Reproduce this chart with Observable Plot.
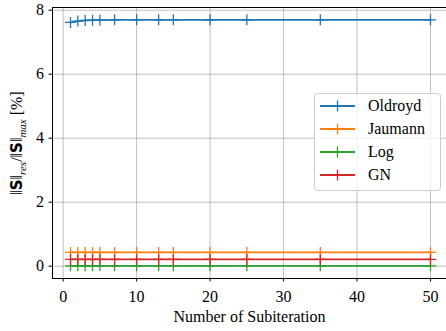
<!DOCTYPE html>
<html>
<head>
<meta charset="utf-8">
<script src="https://cdn.jsdelivr.net/npm/d3@7"></script>
<script src="https://cdn.jsdelivr.net/npm/@observablehq/plot@0.6"></script>
<style>
  html, body { margin: 0; padding: 0; background: #fff; overflow: hidden; }
  svg { display: block; }
</style>
</head>
<body>
<div id="chart"></div>
<script>
// Number of subiterations at which the residual stress was recorded
const subiterations = [1, 2, 3, 4, 5, 7, 10, 13, 15, 20, 25, 35, 50];

// Relative residual stress ||S||_res / ||S||_max in percent, per objective rate
const oldroyd = [7.62, 7.66, 7.68, 7.69, 7.69, 7.70, 7.70, 7.70, 7.70, 7.70, 7.70, 7.70, 7.70];
const jaumann = [0.43, 0.43, 0.43, 0.43, 0.43, 0.43, 0.43, 0.43, 0.43, 0.43, 0.43, 0.43, 0.43];
const logRate = [0.01, 0.01, 0.01, 0.01, 0.01, 0.01, 0.01, 0.01, 0.01, 0.01, 0.01, 0.01, 0.01];
const gn      = [0.21, 0.21, 0.21, 0.21, 0.21, 0.21, 0.21, 0.21, 0.21, 0.21, 0.21, 0.21, 0.21];

const seriesNames = ["Oldroyd", "Jaumann", "Log", "GN"];
const seriesValues = [oldroyd, jaumann, logRate, gn];
const seriesColors = ["#1f77b4", "#ff7f0e", "#2ca02c", "#d62728"];

const xTicks = [0, 10, 20, 30, 40, 50];
const yTicks = [0, 2, 4, 6, 8];
const xDomain = [-1.45, 52.45];
const yDomain = [-0.385, 8.085];
const xLabel = "Number of Subiteration";

const FONT = "'Liberation Serif', 'DejaVu Serif', serif";

// long-form table
const rows = [];
seriesNames.forEach((name, i) => {
  subiterations.forEach((n, j) => rows.push({series: name, n, value: seriesValues[i][j]}));
});

// "+" marker drawn as two strokes
const plusSymbol = {
  draw(context, size) {
    const r = Math.sqrt(size / Math.PI);
    context.moveTo(-r, 0); context.lineTo(r, 0);
    context.moveTo(0, -r); context.lineTo(0, r);
  }
};

const marks = [
  Plot.ruleX(xTicks, {stroke: "#b0b0b0", strokeWidth: 0.8}),
  Plot.ruleY(yTicks, {stroke: "#b0b0b0", strokeWidth: 0.8}),
];
seriesNames.forEach((name, i) => {
  const data = rows.filter(d => d.series === name);
  marks.push(Plot.line(data, {x: "n", y: "value", stroke: seriesColors[i], strokeWidth: 1.8}));
  marks.push(Plot.dot(data, {x: "n", y: "value", stroke: seriesColors[i], fill: "none", symbol: plusSymbol, r: 5.5, strokeWidth: 1.3}));
});
// spines: left, bottom, top
marks.push(Plot.ruleX([xDomain[0]], {stroke: "black", strokeWidth: 1}));
marks.push(Plot.ruleY([yDomain[0], yDomain[1]], {stroke: "black", strokeWidth: 1}));
marks.push(Plot.text([xLabel], {frameAnchor: "bottom", dy: 43, lineAnchor: "bottom", fontSize: 16, fill: "black"}));

const chart = Plot.plot({
  width: 446,
  height: 331,
  marginLeft: 52,
  marginRight: 0,
  marginTop: 7,
  marginBottom: 53,
  style: {fontFamily: FONT, fontSize: "16px", background: "white", color: "black", overflow: "hidden"},
  x: {domain: xDomain, range: [52, 448], ticks: xTicks, tickSize: 3.5, tickPadding: 9, label: null, tickFormat: d => String(d)},
  y: {domain: yDomain, ticks: yTicks, tickSize: 3.5, tickPadding: 5, label: null, tickFormat: d => String(d)},
  marks
});

document.getElementById("chart").appendChild(chart);

const svg = d3.select(chart);

// y-axis label with bold S and italic subscripts
const yl = svg.append("text")
  .attr("transform", "translate(22,143) rotate(-90)")
  .attr("text-anchor", "middle")
  .attr("font-family", FONT)
  .attr("font-size", 16)
  .attr("fill", "black");
yl.append("tspan").text("\u2016");
yl.append("tspan").attr("font-weight", "bold").style("font-family", "'DejaVu Sans', sans-serif").attr("font-size", 15).text("S");
yl.append("tspan").text("\u2016");
yl.append("tspan").attr("font-style", "italic").attr("font-size", 11).attr("dy", 4).text("res");
yl.append("tspan").attr("dy", -4).text("/\u2016");
yl.append("tspan").attr("font-weight", "bold").style("font-family", "'DejaVu Sans', sans-serif").attr("font-size", 15).text("S");
yl.append("tspan").text("\u2016");
yl.append("tspan").attr("font-style", "italic").attr("font-size", 11).attr("dy", 4).text("max");
yl.append("tspan").attr("dy", -4).text(" [%]");

// legend box
const lg = svg.append("g").attr("font-family", FONT).attr("font-size", 16).attr("text-anchor", "start");
lg.append("rect")
  .attr("x", 314.5).attr("y", 93.5).attr("width", 126).attr("height", 97)
  .attr("rx", 3).attr("ry", 3)
  .attr("fill", "white").attr("fill-opacity", 0.8)
  .attr("stroke", "#cccccc").attr("stroke-width", 1);
seriesNames.forEach((name, i) => {
  const y = 106 + i * 23;
  lg.append("line").attr("x1", 320).attr("x2", 355).attr("y1", y).attr("y2", y)
    .attr("stroke", seriesColors[i]).attr("stroke-width", 1.8);
  lg.append("path").attr("d", `M332,${y}h11M337.5,${y - 5.5}v11`)
    .attr("stroke", seriesColors[i]).attr("stroke-width", 1.3).attr("fill", "none");
  lg.append("text").attr("x", 368).attr("y", y + 5).attr("text-anchor", "start").attr("fill", "black").text(name);
});
</script>
</body>
</html>
